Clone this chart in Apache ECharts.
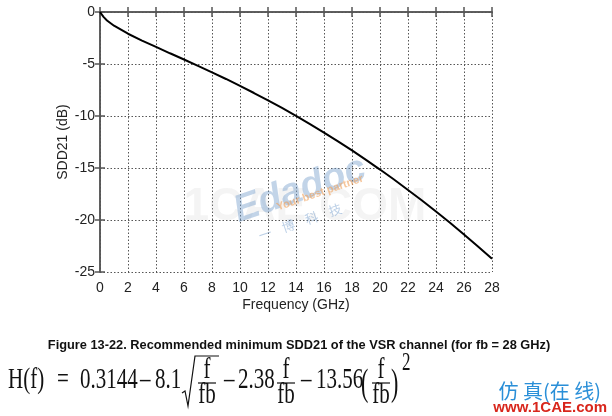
<!DOCTYPE html>
<html>
<head>
<meta charset="utf-8">
<script src="https://cdn.jsdelivr.net/npm/echarts@6/dist/echarts.min.js"></script>
<style>html,body{margin:0;padding:0;background:#fff;}#c{width:612px;height:416px;}</style>
</head>
<body>
<div id="c"></div>
<script>
// Frequency (GHz) sample points
var freqGHz = [0, 0.1, 0.25, 0.5, 1, 2, 3, 4, 5, 6, 7, 8, 9, 10, 11, 12, 13, 14, 15, 16, 17, 18, 19, 20, 21, 22, 23, 24, 25, 26, 27, 28];
// SDD21 (dB) values
var sdd21dB = [0, -0.17, -0.47, -0.81, -1.32, -2.09, -2.75, -3.36, -3.97, -4.57, -5.18, -5.80, -6.44, -7.11, -7.79, -8.50, -9.23, -9.99, -10.78, -11.60, -12.44, -13.31, -14.22, -15.15, -16.11, -17.11, -18.13, -19.19, -20.27, -21.39, -22.54, -23.73];
var xTicks = [0, 2, 4, 6, 8, 10, 12, 14, 16, 18, 20, 22, 24, 26, 28];
var yTicks = [0, -5, -10, -15, -20, -25];
var xTitle = 'Frequency (GHz)';
var yTitle = 'SDD21 (dB)';
var caption = 'Figure 13-22. Recommended minimum SDD21 of the VSR channel (for fb = 28 GHz)';

var pts = freqGHz.map(function (f, i) { return [f, sdd21dB[i]]; });

var axisLineStyle = { color: '#555', width: 1.5 };
var gridLine = { show: true, lineStyle: { color: '#555', width: 1, type: [1.5, 2] } };
var lblFont = 'Liberation Sans';

var serif = 'Liberation Serif';
var sy = 1.42;
function t(txt, x, y, size, extra) {
  var o = { type: 'text', x: x, y: y, scaleY: sy, z: 10,
    style: { text: txt, font: size + 'px "' + serif + '"', fill: '#111', verticalAlign: 'middle', align: 'left' } };
  if (extra) { for (var k in extra) { if (k === 'style') { for (var s in extra.style) o.style[s] = extra.style[s]; } else o[k] = extra[k]; } }
  return o;
}
function frac(cx) {
  return [
    t('f', cx, 370, 21, { style: { align: 'center' } }),
    { type: 'line', z: 10, shape: { x1: cx - 9, y1: 383, x2: cx + 9, y2: 383 }, style: { stroke: '#111', lineWidth: 1.2 } },
    t('fb', cx, 395, 21, { style: { align: 'center' } })
  ];
}

var graphics = [
  { type: 'text', x: 299, y: 345, z: 10, style: { text: caption, font: 'bold 12.8px "Liberation Sans"', fill: '#111', align: 'center', verticalAlign: 'middle' } },
  t('H(f)', 8, 380, 21),
  t('=', 57, 380, 21),
  t('0.3144', 80, 380, 21),
  t('\u2013', 140, 380, 21),
  t('8.1', 155, 380, 21),
  { type: 'polyline', z: 10, shape: { points: [[182, 393], [185, 391], [188, 406], [195, 356], [219, 356]] }, style: { stroke: '#111', lineWidth: 1.2, fill: null } },
  t('\u2013', 224, 380, 21),
  t('2.38', 238, 380, 21)
].concat(frac(207)).concat(frac(286)).concat([
  t('\u2013', 301, 380, 21),
  t('13.56', 316, 380, 21),
  t('(', 361, 385, 22, { scaleY: 1.7 }),
  t(')', 391, 385, 22, { scaleY: 1.7 }),
  t('2', 402, 364, 17)
]).concat(frac(381)).concat([
  // watermark marks
  { type: 'text', x: 601, y: 391, z: 10, style: { text: '仿 真(在 线)', font: '20px "Noto Sans CJK SC"', fill: '#2a8fd8', align: 'right', verticalAlign: 'middle' } },
  { type: 'text', x: 607, y: 408, z: 10, style: { text: 'www.1CAE.com', font: 'bold 15px "Liberation Sans"', fill: '#d8261c', align: 'right', verticalAlign: 'middle' } },
  { type: 'text', x: 305, y: 207, z: 5, style: { text: '1CAE.COM', font: 'bold 46px "Liberation Sans"', fill: 'rgba(200,200,200,0.2)', align: 'center', verticalAlign: 'middle' } },
  { type: 'text', x: 300, y: 190, rotation: 0.33, z: 6, style: { text: 'Edadoc', font: 'italic bold 38px "Liberation Sans"', fill: 'rgba(120,160,205,0.45)', align: 'center', verticalAlign: 'middle' } },
  { type: 'text', x: 320, y: 193, rotation: 0.33, z: 7, style: { text: 'Your best partner', font: 'bold 11px "Liberation Sans"', fill: 'rgba(240,160,90,0.6)', align: 'center', verticalAlign: 'middle' } },
  { type: 'text', x: 300, y: 222, rotation: 0.33, z: 7, style: { text: '一    博    科    技', font: '13px "Noto Sans CJK SC"', fill: 'rgba(120,160,205,0.5)', align: 'center', verticalAlign: 'middle' } }
]);

var chart = echarts.init(document.getElementById('c'), null, { renderer: 'canvas' });
chart.setOption({
  animation: false,
  backgroundColor: '#fff',
  grid: { left: 100, right: 120, top: 12, bottom: 144, containLabel: false },
  xAxis: [
    { type: 'value', min: xTicks[0], max: xTicks[xTicks.length - 1], interval: 2,
      axisLine: { show: true, lineStyle: axisLineStyle },
      axisTick: { show: true, inside: true, length: 5, lineStyle: axisLineStyle },
      splitLine: gridLine,
      axisLabel: { color: '#222', fontSize: 14, fontFamily: lblFont, margin: 9 },
      name: xTitle, nameLocation: 'middle', nameGap: 26, nameMoveOverlap: false,
      nameTextStyle: { color: '#222', fontSize: 14, fontFamily: lblFont } },
    { type: 'value', position: 'top', min: xTicks[0], max: xTicks[xTicks.length - 1], interval: 2,
      axisLine: { show: true, lineStyle: axisLineStyle },
      axisTick: { show: true, inside: true, length: 5, lineStyle: axisLineStyle },
      splitLine: { show: false }, axisLabel: { show: false } }
  ],
  yAxis: [
    { type: 'value', min: yTicks[yTicks.length - 1], max: yTicks[0], interval: 5,
      axisLine: { show: true, lineStyle: axisLineStyle },
      axisTick: { show: true, inside: true, length: 5, lineStyle: axisLineStyle },
      splitLine: gridLine,
      axisLabel: { color: '#222', fontSize: 14, fontFamily: lblFont, margin: 5 },
      name: yTitle, nameLocation: 'middle', nameGap: 30, nameRotate: 90, nameMoveOverlap: false,
      nameTextStyle: { color: '#222', fontSize: 14, fontFamily: lblFont } },
    { type: 'value', position: 'right', min: yTicks[yTicks.length - 1], max: yTicks[0], interval: 5,
      axisLine: { show: true, lineStyle: axisLineStyle },
      axisTick: { show: true, inside: true, length: 5, lineStyle: axisLineStyle },
      splitLine: { show: false }, axisLabel: { show: false } }
  ],
  series: [{
    type: 'line', data: pts, xAxisIndex: 0, yAxisIndex: 0,
    showSymbol: false, smooth: false, z: 8,
    lineStyle: { color: '#000', width: 2 }
  }],
  graphic: graphics
});
</script>
</body>
</html>
